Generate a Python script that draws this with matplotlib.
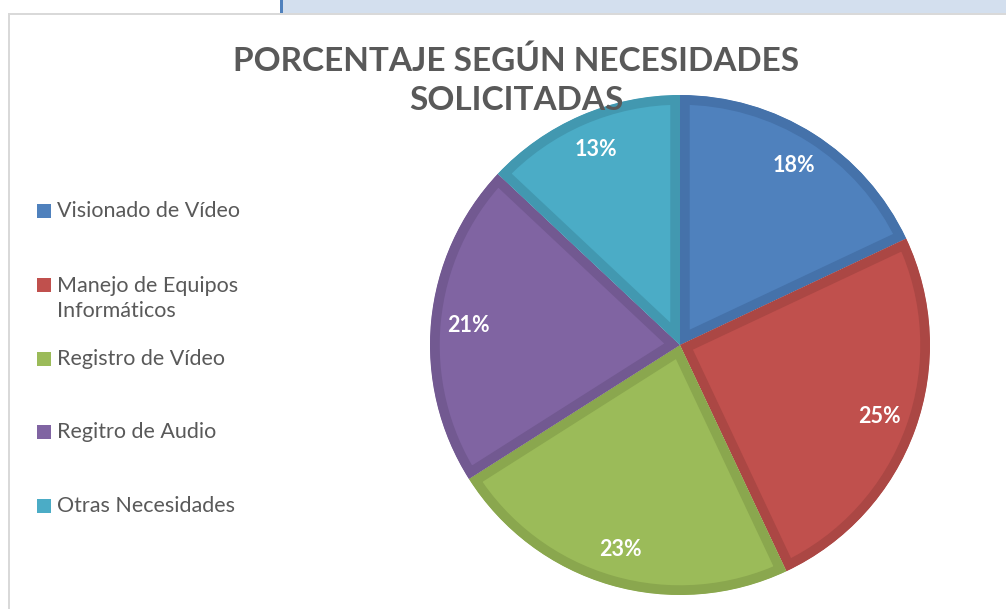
import matplotlib.pyplot as plt
from matplotlib.patches import Rectangle

categorias = ['Visionado de Vídeo', 'Manejo de Equipos\nInformáticos', 'Registro de Vídeo',
              'Regitro de Audio', 'Otras Necesidades']
valores = [18, 25, 23, 21, 13]
colores = ['#4F81BD', '#C0504D', '#9BBB59', '#8064A2', '#4BACC6']
bordes = ['#4572AA', '#AB4744', '#8AA74E', '#725991', '#4298B0']
titulo = 'PORCENTAJE SEGÚN NECESIDADES\nSOLICITADAS'

W, H = 1006, 609
fig = plt.figure(figsize=(W / 100, H / 100), dpi=100)
fig.patch.set_facecolor('white')

# page bits around the chart
fig.patches.append(Rectangle((283 / W, 1 - 14 / H), 1, 14 / H, transform=fig.transFigure,
                             facecolor='#D3DFEE', edgecolor='none'))
fig.patches.append(Rectangle((280 / W, 1 - 14 / H), 3 / W, 14 / H, transform=fig.transFigure,
                             facecolor='#4F81BD', edgecolor='none'))
fig.patches.append(Rectangle((8 / W, 1 - 15 / H), 1, 2 / H, transform=fig.transFigure,
                             facecolor='#D9D9D9', edgecolor='none'))
fig.patches.append(Rectangle((8 / W, 0), 2 / W, 1 - 13 / H, transform=fig.transFigure,
                             facecolor='#D9D9D9', edgecolor='none'))

# pie centred at (680, 345) px, radius 250 px
cx, cy, r = 680, 345, 250
ax = fig.add_axes([(cx - r) / W, (H - cy - r) / H, 2 * r / W, 2 * r / H])
wedges, textos, pcts = ax.pie(valores, colors=colores, startangle=90, counterclock=False,
                              autopct='%1.0f%%', pctdistance=0.85,
                              wedgeprops=dict(linewidth=14),
                              textprops=dict(color='white', fontsize=15.5, fontweight='bold',
                                             family='Lato'))
# inner border: stroke clipped to the wedge itself
for w, b in zip(wedges, bordes):
    w.set_edgecolor(b)
    w.set_clip_on(True)
    w.set_clip_path(w)
ax.set_xlim(-1, 1)
ax.set_ylim(-1, 1)

fig.text(516 / W, 1 - 80 / H, titulo, ha='center', va='center', fontsize=24,
         fontweight='bold', color='#595959', family='Lato', linespacing=1.4)

# legend
for i, (lab, col) in enumerate(zip(categorias, colores)):
    y = 211 + 73.8 * i
    n = lab.count('\n') + 1
    fig.patches.append(Rectangle((37 / W, 1 - (y + 7) / H), 14 / W, 14 / H,
                                 transform=fig.transFigure, facecolor=col, edgecolor='none'))
    fig.text(57 / W, 1 - (y + (n - 1) * 14) / H, lab, ha='left', va='center',
             fontsize=15.5, color='#595959', family='Lato', linespacing=1.3)

fig.savefig('out.png', dpi=100)
